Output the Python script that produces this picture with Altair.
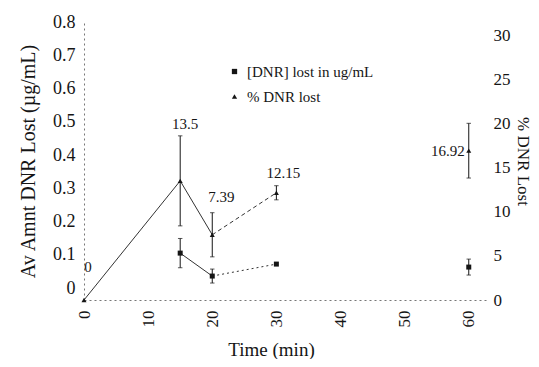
import altair as alt
import pandas as pd

# ---------------- data ----------------
SERIES_CONC = "[DNR] lost in ug/mL"
SERIES_PCT = "% DNR lost"

# % DNR lost (right axis)
pct_time = [0, 15, 20, 30, 60]
pct_value = [0, 13.5, 7.39, 12.15, 16.92]
pct_err = [0, 5.1, 2.5, 0.8, 3.1]
pct_labels = ["0", "13.5", "7.39", "12.15", "16.92"]

# [DNR] lost in ug/mL (left axis)
conc_time = [15, 20, 30, 60]
conc_value = [0.105, 0.036, 0.072, 0.063]
conc_err = [0.044, 0.021, 0.0, 0.024]

left_ticks = [0, 0.1, 0.2, 0.3, 0.4, 0.5, 0.6, 0.7, 0.8]
right_ticks = [0, 5, 10, 15, 20, 25, 30]
x_ticks = [0, 10, 20, 30, 40, 50, 60]

# ---------------- tables ----------------
pct_df = pd.DataFrame({
    "t": pct_time, "v": pct_value, "err": pct_err, "label": pct_labels,
})
pct_df["lo"] = pct_df["v"] - pct_df["err"]
pct_df["hi"] = pct_df["v"] + pct_df["err"]
pct_df["series"] = SERIES_PCT
pct_df["i"] = range(len(pct_df))

conc_df = pd.DataFrame({"t": conc_time, "v": conc_value, "err": conc_err})
conc_df["lo"] = conc_df["v"] - conc_df["err"]
conc_df["hi"] = conc_df["v"] + conc_df["err"]
conc_df["series"] = SERIES_CONC

pct_solid = pct_df.iloc[0:3]
pct_dash = pct_df.iloc[2:4]
conc_solid = conc_df.iloc[0:2]
conc_dot = conc_df.iloc[1:3]
pct_errs = pct_df[pct_df["err"] > 0]
conc_errs = conc_df[conc_df["err"] > 0]

# ---------------- style ----------------
FONT = "Liberation Serif"
INK = "#151515"
LINE = "#333333"

x_scale = alt.Scale(domain=[0, 63], nice=False, zero=False)
yl_scale = alt.Scale(domain=[-0.036, 0.8], nice=False, zero=False)
yr_scale = alt.Scale(domain=[0, 31.5], nice=False, zero=False)

x_axis = alt.Axis(
    values=x_ticks, labelAngle=270, title="Time (min)", ticks=False,
    domainDash=[2, 3], domainColor="#777", labelPadding=10, labelFlush=False,
    labelOverlap=False, labelFontSize=17, titleFontSize=19,
    titleX=187, titleY=40, titleBaseline="top", grid=False,
)
left_axis = alt.Axis(
    values=left_ticks, title="Av Amnt DNR Lost (µg/mL)", ticks=False,
    labelExpr="datum.value == 0 ? '0' : format(datum.value, '.1f')",
    domainDash=[2, 3], domainColor="#777", labelPadding=9, labelFlush=False,
    labelOverlap=False, labelFontSize=18, titleFontSize=20, titlePadding=14,
    grid=False,
)
right_axis = alt.Axis(
    values=right_ticks, orient="right", title="% DNR Lost", domain=False,
    ticks=False, labelPadding=5, labelFlush=False, labelOverlap=False,
    labelFontSize=17, titleFontSize=17, titleAngle=90, titlePadding=3,
    grid=False,
)

shape_enc = alt.Shape(
    "series:N",
    scale=alt.Scale(domain=[SERIES_CONC, SERIES_PCT], range=["square", "triangle-up"]),
    legend=alt.Legend(title=None, orient="none", legendX=143, legendY=42),
)

X = alt.X("t:Q", scale=x_scale, axis=x_axis)


def YL(field):
    return alt.Y(field, scale=yl_scale, axis=left_axis)


def YR(field):
    return alt.Y(field, scale=yr_scale, axis=right_axis)


cap_shape = "M-1,0L1,0"

# ---------------- left ([DNR] ug/mL) ----------------
c_line1 = alt.Chart(conc_solid).mark_line(color=LINE, strokeWidth=1).encode(x=X, y=YL("v:Q"))
c_line2 = alt.Chart(conc_dot).mark_line(color=LINE, strokeWidth=1, strokeDash=[2, 3]).encode(
    x=X, y=YL("v:Q"))
c_err = alt.Chart(conc_errs).mark_rule(color=INK, strokeWidth=1).encode(
    x=X, y=YL("lo:Q"), y2="hi:Q")
c_caps = alt.Chart(conc_errs).transform_fold(["lo", "hi"], as_=["end", "yy"]).mark_point(
    shape=cap_shape, size=20, color=INK, filled=False, strokeWidth=1).encode(
    x=X, y=YL("yy:Q"))
c_pts = alt.Chart(conc_df).mark_point(filled=True, size=25, color=INK, opacity=1).encode(
    x=X, y=YL("v:Q"), shape=shape_enc)
left = alt.layer(c_line1, c_line2, c_err, c_caps, c_pts)

# ---------------- right (% DNR lost) ----------------
p_line1 = alt.Chart(pct_solid).mark_line(color=LINE, strokeWidth=1).encode(x=X, y=YR("v:Q"))
p_line2 = alt.Chart(pct_dash).mark_line(color=LINE, strokeWidth=1, strokeDash=[4, 3]).encode(
    x=X, y=YR("v:Q"))
p_err = alt.Chart(pct_errs).mark_rule(color=INK, strokeWidth=1).encode(
    x=X, y=YR("lo:Q"), y2="hi:Q")
p_caps = alt.Chart(pct_errs).transform_fold(["lo", "hi"], as_=["end", "yy"]).mark_point(
    shape=cap_shape, size=20, color=INK, filled=False, strokeWidth=1).encode(
    x=X, y=YR("yy:Q"))
p_pts = alt.Chart(pct_df).mark_point(filled=True, size=25, color=INK, opacity=1).encode(
    x=X, y=YR("v:Q"), shape=shape_enc)

label_style = [
    {"dx": 4, "dy": -33, "align": "center"},
    {"dx": 5, "dy": -57, "align": "center"},
    {"dx": 9, "dy": -38, "align": "center"},
    {"dx": 7, "dy": -20, "align": "center"},
    {"dx": -4, "dy": 0, "align": "right"},
]
texts = []
for k, st in enumerate(label_style):
    texts.append(
        alt.Chart(pct_df).transform_filter(alt.datum.i == k).mark_text(
            font=FONT, fontSize=15, color=INK, baseline="middle", **st
        ).encode(x=X, y=YR("v:Q"), text="label:N")
    )

right = alt.layer(p_line1, p_line2, p_err, p_caps, p_pts, *texts)

chart = (
    alt.layer(left, right)
    .resolve_scale(y="independent")
    .properties(
        width=404, height=278,
        padding={"left": 76, "top": 14, "right": 43, "bottom": 59},
        autosize=alt.AutoSizeParams(type="none"),
        background="white",
    )
    .configure_view(stroke=None)
    .configure_axis(
        labelFont=FONT, titleFont=FONT, labelColor=INK, titleColor=INK,
        titleFontWeight="normal",
    )
    .configure_legend(
        labelFont=FONT, labelFontSize=15, labelColor=INK, symbolSize=28,
        rowPadding=9, labelOffset=5, padding=0,
        symbolFillColor=INK, symbolStrokeColor=INK, symbolStrokeWidth=0,
    )
)

chart.save("out.html", embed_options={"renderer": "svg", "actions": False})
